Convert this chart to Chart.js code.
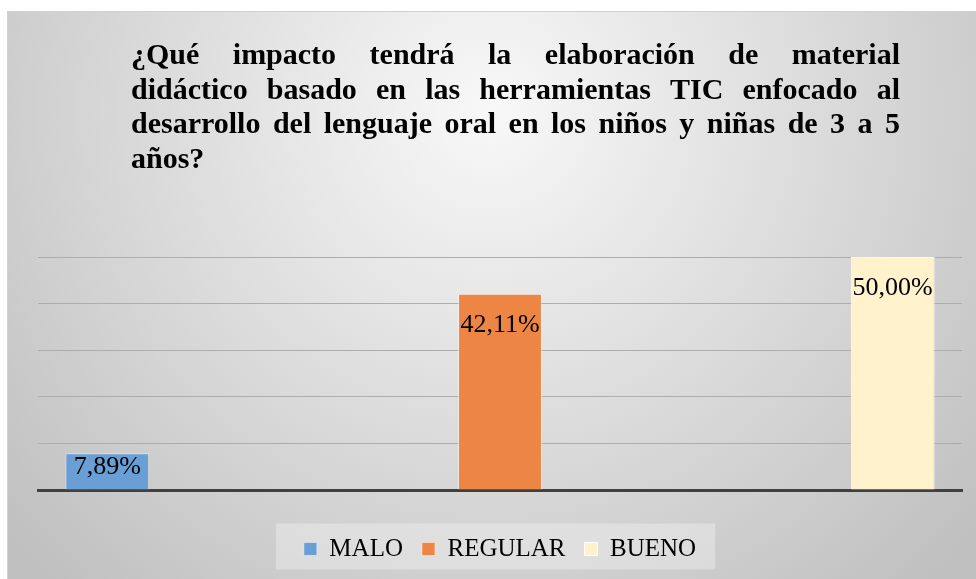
<!DOCTYPE html>
<html>
<head>
<meta charset="utf-8">
<script src="https://cdn.jsdelivr.net/npm/chart.js@4.4.0/dist/chart.umd.min.js"></script>
<style>
  html, body { margin: 0; padding: 0; background: #fff; }
  #wrap { position: relative; width: 976px; height: 579px; }
</style>
</head>
<body>
<div id="wrap"><canvas id="myChart" width="976" height="579"></canvas></div>
<script>
var titleLines = [
  '¿Qué impacto tendrá la elaboración de material',
  'didáctico basado en las herramientas TIC enfocado al',
  'desarrollo del lenguaje oral en los niños y niñas de 3 a 5',
  'años?'
];
var categories = ['MALO', 'REGULAR', 'BUENO'];
var malo = [7.89, null, null];
var regular = [null, 42.11, null];
var bueno = [null, null, 50.00];
var colors = ['#6A9FD6', '#ED8544', '#FFF2CC'];

// fondo del gráfico y caja de la leyenda
var framePlugin = {
  id: 'frame',
  beforeDraw: function (chart) {
    var ctx = chart.ctx;
    ctx.save();
    var g = ctx.createRadialGradient(490, 110, 0, 490, 110, 640);
    g.addColorStop(0, '#f8f8f8');
    g.addColorStop(1, '#c0c0c0');
    ctx.fillStyle = g;
    ctx.fillRect(7, 11, 969, 568);
    ctx.strokeStyle = '#d0d0d0';
    ctx.lineWidth = 1;
    ctx.beginPath();
    ctx.moveTo(7.5, 579);
    ctx.lineTo(7.5, 11.5);
    ctx.lineTo(976, 11.5);
    ctx.stroke();

    var hb = chart.legend.legendHitBoxes;
    if (hb && hb.length) {
      var first = hb[0], last = hb[hb.length - 1];
      ctx.fillStyle = 'rgba(255,255,255,0.3)';
      ctx.fillRect(first.left - 28, first.top - 13, last.left + last.width - first.left + 47, 46);
    }
    ctx.restore();
  }
};

// título justificado
var titlePlugin = {
  id: 'justTitle',
  afterDraw: function (chart) {
    var ctx = chart.ctx;
    var left = 131, right = 900, y0 = 64, lh = 34.7;
    ctx.save();
    ctx.font = 'bold 30px "Liberation Serif"';
    ctx.fillStyle = '#000';
    ctx.textBaseline = 'alphabetic';
    ctx.textAlign = 'left';
    titleLines.forEach(function (line, i) {
      var y = y0 + i * lh;
      var words = line.split(' ');
      if (i === titleLines.length - 1 || words.length < 2) {
        ctx.fillText(line, left, y);
        return;
      }
      var total = 0;
      words.forEach(function (w) { total += ctx.measureText(w).width; });
      var gap = (right - left - total) / (words.length - 1);
      var x = left;
      words.forEach(function (w) {
        ctx.fillText(w, x, y);
        x += ctx.measureText(w).width + gap;
      });
    });
    ctx.restore();
  }
};

// etiquetas de datos dentro del extremo
var labelPlugin = {
  id: 'barLabels',
  afterDatasetsDraw: function (chart) {
    var ctx = chart.ctx;
    ctx.save();
    ctx.font = '26px "Liberation Serif"';
    ctx.fillStyle = '#000';
    ctx.textAlign = 'center';
    ctx.textBaseline = 'alphabetic';
    chart.data.datasets.forEach(function (ds, i) {
      var meta = chart.getDatasetMeta(i);
      meta.data.forEach(function (bar, j) {
        var v = ds.data[j];
        if (v === null || v === undefined) return;
        var y = Math.min(bar.y + 38, bar.base - 16);
        ctx.fillText(v.toFixed(2).replace('.', ',') + '%', bar.x, y);
      });
    });
    ctx.restore();
  }
};

var ctx = document.getElementById('myChart').getContext('2d');
var myChart = new Chart(ctx, {
  type: 'bar',
  data: {
    labels: categories,
    datasets: [
      { label: 'MALO', data: malo, backgroundColor: colors[0], borderColor: 'rgba(255,255,255,0.45)', borderWidth: 1 },
      { label: 'REGULAR', data: regular, backgroundColor: colors[1], borderColor: 'rgba(255,255,255,0.45)', borderWidth: 1 },
      { label: 'BUENO', data: bueno, backgroundColor: colors[2], borderColor: 'rgba(255,255,255,0.9)', borderWidth: 1 }
    ]
  },
  options: {
    responsive: false,
    animation: false,
    categoryPercentage: 0.825,
    barPercentage: 0.99,
    layout: { padding: { left: 38, right: 14, top: 257, bottom: 7.5 } },
    scales: {
      x: {
        grid: { display: false },
        ticks: { display: false },
        border: { display: true, color: '#404040', width: 3 },
        afterFit: function (axis) { axis.height = 27.5; }
      },
      y: {
        min: 0,
        max: 50,
        ticks: { display: false, stepSize: 10 },
        grid: { color: '#adadad', lineWidth: 1, drawTicks: false },
        border: { display: false },
        afterFit: function (axis) { axis.width = 0; }
      }
    },
    plugins: {
      title: { display: false },
      tooltip: { enabled: false },
      legend: {
        position: 'bottom',
        labels: {
          font: { family: 'Liberation Serif', size: 25 },
          color: '#000',
          boxWidth: 13,
          boxHeight: 13,
          padding: 19
        }
      }
    }
  },
  plugins: [framePlugin, titlePlugin, labelPlugin]
});
</script>
</body>
</html>
